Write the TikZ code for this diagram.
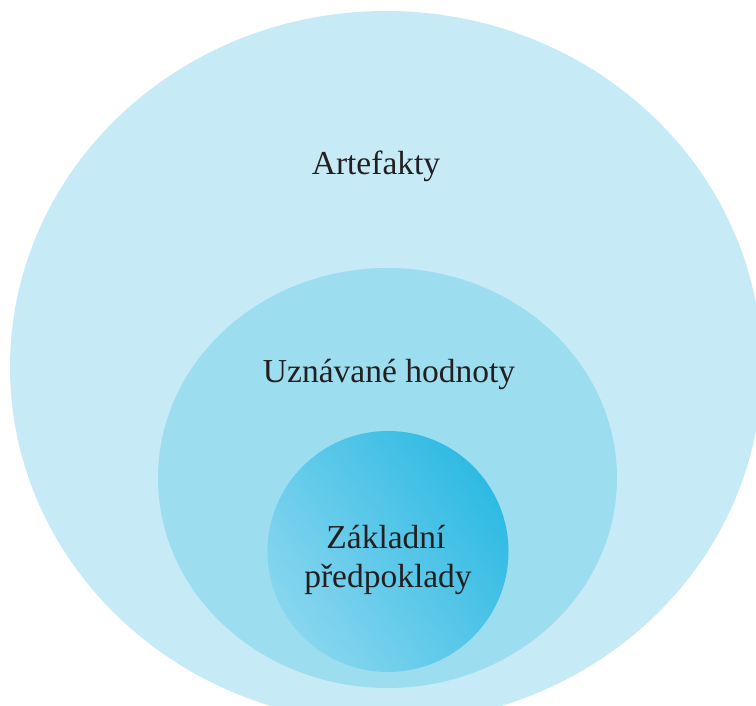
\documentclass[tikz,border=0pt]{standalone}
\usepackage{fontspec}
\setmainfont{Liberation Serif}
\usepackage{xcolor}
\usetikzlibrary{shapes.geometric, positioning}
\definecolor{outerblue}{HTML}{C7EBF6}
\definecolor{middleblue}{HTML}{9CDEF0}
\definecolor{innerdark}{HTML}{2EBAE3}
\definecolor{innerlight}{HTML}{88D6EF}
\definecolor{textgray}{HTML}{231F20}

\begin{document}
\begin{tikzpicture}[x=1pt, y=1pt, every node/.style={font=\fontsize{33.5}{39}\selectfont, text=textgray}]
% Define styles for the layers and labels
\tikzstyle{layer} = [ellipse, draw=none, inner sep=0pt]
\tikzstyle{core} = [circle, draw=none, inner sep=0pt, minimum size=241pt, left color=innerlight, right color=innerdark, shading angle=125]
\tikzstyle{label} = [anchor=base, inner sep=0pt, align=center]

\useasboundingbox (0,0) rectangle (756,706);
\clip (0,0) rectangle (756,706);

% Layers
\node [layer, fill=outerblue, minimum width=752pt, minimum height=712pt] (outer) at (386,339) {};
\node [layer, fill=middleblue, minimum width=459pt, minimum height=420pt] (middle) at (387.5,228) {};
\node [core] (inner) at (388,154.5) {};

% Labels
\node [label] (artefakty) at (376,531) {Artefakty};
\node [label] (hodnoty) at (389,323) {Uznávané hodnoty};
\node [label] (predpoklady) at (388,118) {předpoklady};
\node [label, above=39pt of predpoklady.base, anchor=base, xshift=-2pt] (zakladni) {Základní};
\end{tikzpicture}
\end{document}
